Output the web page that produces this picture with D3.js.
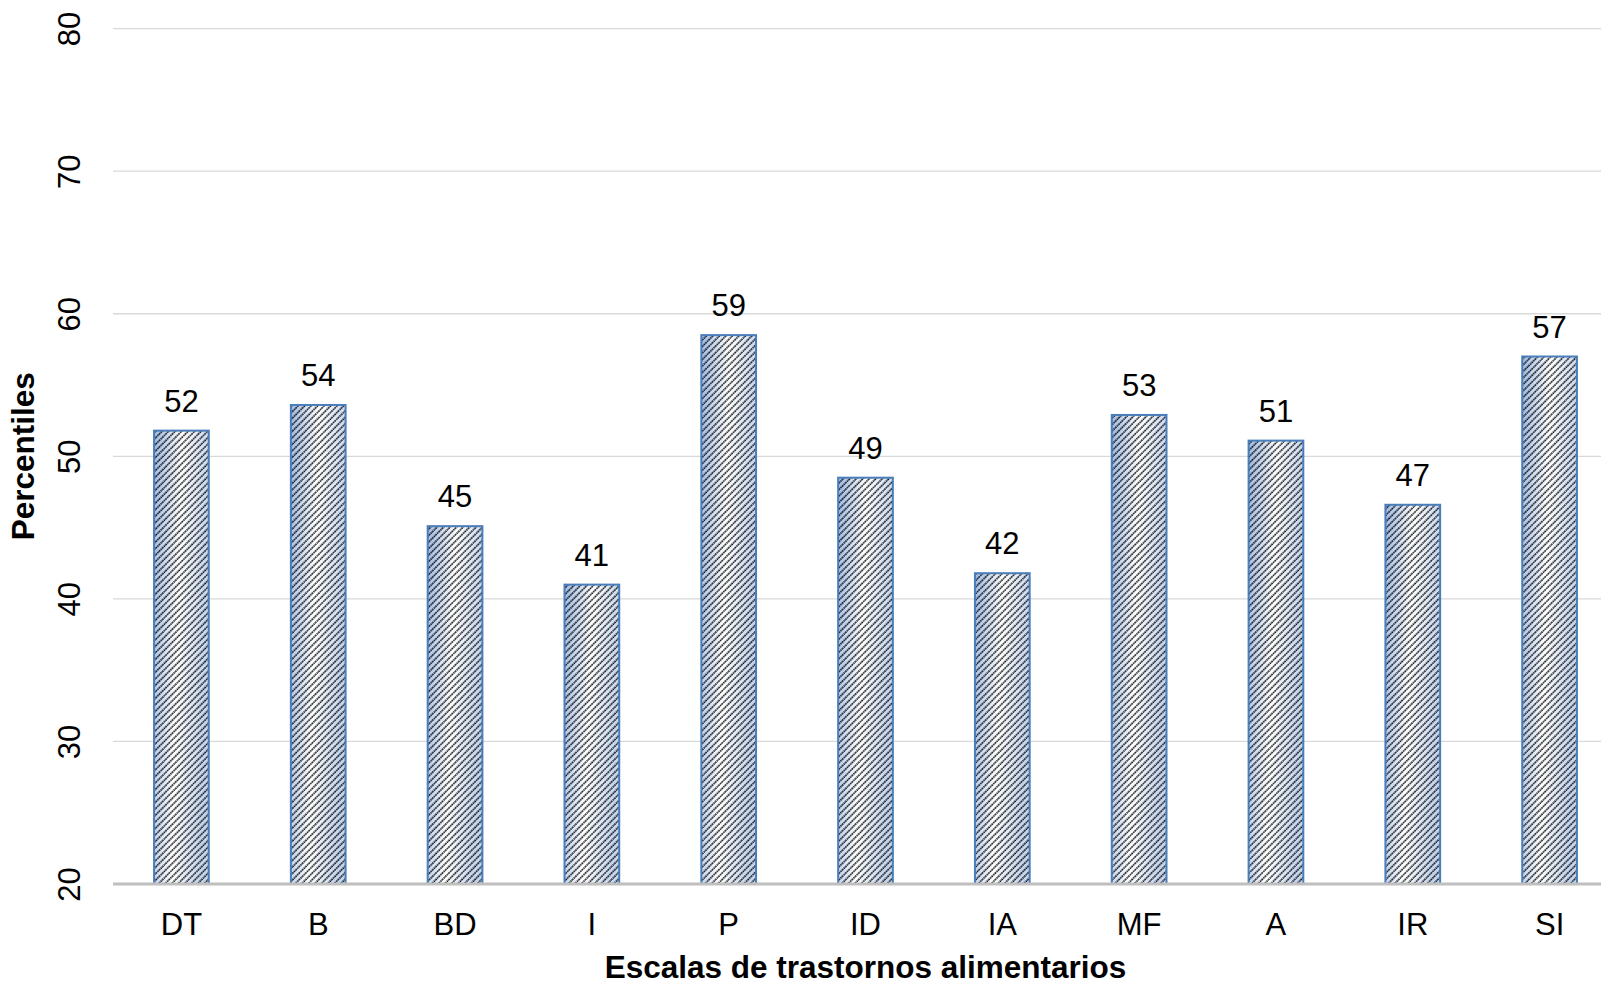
<!DOCTYPE html>
<html><head><meta charset="utf-8">
<script src="https://cdn.jsdelivr.net/npm/d3@7"></script>
<style>body{margin:0;background:#fff;overflow:hidden}svg{display:block}</style>
</head><body>
<script>
const categories = ["DT","B","BD","I","P","ID","IA","MF","A","IR","SI"];
const values = [51.8,53.6,45.1,41.0,58.5,48.5,41.8,52.9,51.1,46.6,57.0];
const labels = ["52","54","45","41","59","49","42","53","51","47","57"];
const yTicks = [20,30,40,50,60,70,80];
const xTitle = "Escalas de trastornos alimentarios";
const yTitle = "Percentiles";

const W = 1601, H = 984;
const font = "'Liberation Sans', Arial, sans-serif";
const svg = d3.select("body").append("svg").attr("width", W).attr("height", H);

const defs = svg.append("defs");
const grad = defs.append("linearGradient").attr("id","g").attr("x1","0").attr("y1","0").attr("x2","1").attr("y2","0.2");
grad.append("stop").attr("offset","0").attr("stop-color","#9cb8e2");
grad.append("stop").attr("offset","0.5").attr("stop-color","#ffffff");
grad.append("stop").attr("offset","1").attr("stop-color","#c4d5ee");
const pat = defs.append("pattern").attr("id","h").attr("patternUnits","userSpaceOnUse")
  .attr("width",4.6).attr("height",4.6).attr("patternTransform","rotate(45)");
pat.append("line").attr("x1",1).attr("y1",0).attr("x2",1).attr("y2",4.6)
  .attr("stroke","#000").attr("stroke-width",1.5).attr("stroke-dasharray","1.6 0.7");

const x = d3.scaleBand().domain(categories).range([113, 1618]).paddingInner(0.6).paddingOuter(0.3);
const y = d3.scaleLinear().domain([20, 80]).range([884, 28.6]);

// gridlines
svg.append("g").selectAll("line").data(yTicks.filter(d => d > 20)).join("line")
  .attr("x1", 113).attr("x2", W).attr("y1", d => y(d)).attr("y2", d => y(d))
  .attr("stroke", "#d9d9d9").attr("stroke-width", 1.3);

// bars
const bars = svg.append("g");
categories.forEach((c, i) => {
  const bx = x(c), bw = x.bandwidth(), by = y(values[i]), bh = y(20) - y(values[i]);
  bars.append("rect").attr("x", bx).attr("y", by).attr("width", bw).attr("height", bh).attr("fill", "url(#g)");
  bars.append("rect").attr("x", bx).attr("y", by).attr("width", bw).attr("height", bh)
    .attr("fill", "url(#h)").attr("stroke", "#4a7ebb").attr("stroke-width", 2);
});

// baseline axis
svg.append("line").attr("x1", 113).attr("x2", W).attr("y1", y(20)).attr("y2", y(20))
  .attr("stroke", "#bfbfbf").attr("stroke-width", 3);

// data labels
svg.append("g").selectAll("text").data(categories).join("text")
  .attr("x", d => x(d) + x.bandwidth()/2).attr("y", (d, i) => y(values[i]) - 19)
  .attr("text-anchor", "middle").attr("font-family", font).attr("font-size", 31).attr("fill", "#000")
  .text((d, i) => labels[i]);

// x axis labels
const xAxis = d3.axisBottom(x).tickSize(0).tickPadding(0);
const gx = svg.append("g").attr("transform", `translate(0,${y(20)})`).call(xAxis);
gx.select(".domain").remove();
gx.selectAll("text").attr("font-family", font).attr("font-size", 31).attr("fill", "#000")
  .attr("dy", null).attr("y", 51);

// y axis labels (rotated)
const yAxis = d3.axisLeft(y).tickValues(yTicks).tickSize(0);
const gy = svg.append("g").call(yAxis);
gy.select(".domain").remove();
gy.selectAll(".tick text").attr("font-family", font).attr("font-size", 31).attr("fill", "#000")
  .attr("x", 0).attr("dy", null).attr("text-anchor", "middle")
  .attr("transform", "translate(80,0) rotate(-90)");

// titles
svg.append("text").attr("x", (113 + 1618) / 2).attr("y", 978).attr("text-anchor", "middle")
  .attr("font-family", font).attr("font-size", 31.5).attr("font-weight", "bold").text(xTitle);
svg.append("text").attr("transform", `translate(34,${(28.6 + 884) / 2}) rotate(-90)`).attr("text-anchor", "middle")
  .attr("font-family", font).attr("font-size", 31.5).attr("font-weight", "bold").text(yTitle);
</script>
</body></html>
